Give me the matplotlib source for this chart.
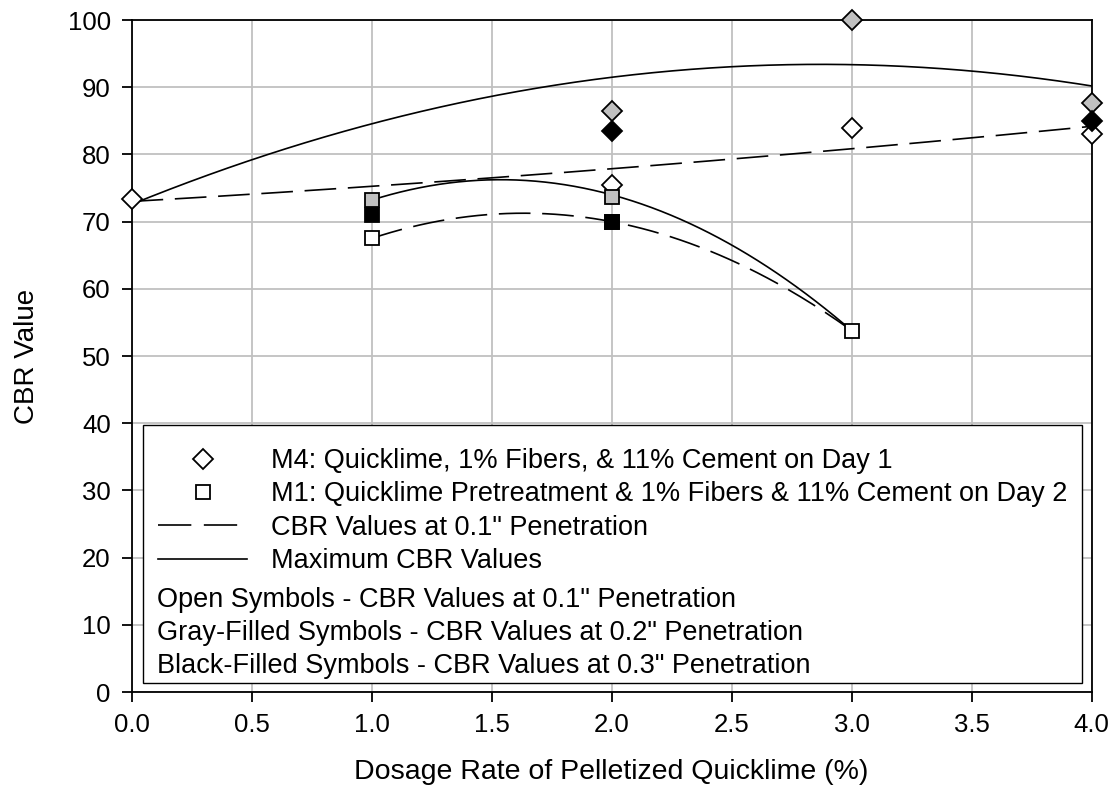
import matplotlib
matplotlib.use("Agg")
import matplotlib.pyplot as plt
from matplotlib.lines import Line2D
from matplotlib.patches import Rectangle
import numpy as np

plt.rcParams['font.family'] = ['Liberation Sans', 'DejaVu Sans']
plt.rcParams['font.size'] = 18

# M4: quicklime, fibers & cement on day 1
m4_dose = np.array([0, 2, 3, 4])
m4_01 = np.array([73.4, 75.5, 84.0, 83.0])
m4_02 = np.array([np.nan, 86.5, 100.0, 87.7])
m4_03 = np.array([np.nan, 83.5, np.nan, 85.0])
m4_max = np.array([73.4, 86.5, 100.0, 87.7])

# M1: quicklime pretreatment, cement on day 2
m1_dose = np.array([1, 2, 3])
m1_01 = np.array([67.5, 70.0, 53.8])
m1_02 = np.array([73.2, 73.7, np.nan])
m1_03 = np.array([71.0, 70.0, np.nan])
m1_max = np.array([73.2, 74.0, 53.8])

gray = "#c0c0c0"
dash = (0, (19, 7))

fig, ax = plt.subplots(figsize=(11.15, 8.01), dpi=100)
fig.subplots_adjust(left=0.118, right=0.979, top=0.975, bottom=0.136)

# quadratic trendlines, like the spreadsheet does
def trend(x, y, ls):
    c = np.polyfit(x, y, 2)
    xx = np.linspace(x.min(), x.max(), 200)
    ax.plot(xx, np.polyval(c, xx), color="black", lw=1.2, linestyle=ls, zorder=3)

trend(m4_dose, m4_01, dash)
trend(m4_dose, m4_max, "-")
trend(m1_dose, m1_01, dash)
trend(m1_dose, m1_max, "-")

mk = dict(linestyle="none", markeredgecolor="black", markeredgewidth=1.3, zorder=4, clip_on=False)
ax.plot(m4_dose, m4_01, marker="D", ms=10, markerfacecolor="white", **mk)
ax.plot(m4_dose, m4_02, marker="D", ms=10, markerfacecolor=gray, **mk)
ax.plot(m4_dose, m4_03, marker="D", ms=10, markerfacecolor="black", **mk)
ax.plot(m1_dose, m1_01, marker="s", ms=10.5, markerfacecolor="white", **mk)
ax.plot(m1_dose, m1_02, marker="s", ms=10.5, markerfacecolor=gray, **mk)
ax.plot(m1_dose, m1_03, marker="s", ms=10.5, markerfacecolor="black", **mk)

ax.set_xlim(0, 4)
ax.set_ylim(0, 100)
ax.set_xticks(np.arange(0, 4.01, 0.5))
ax.set_xticklabels([f"{v:.1f}" for v in np.arange(0, 4.01, 0.5)])
ax.set_yticks(np.arange(0, 101, 10))
ax.grid(True, color=gray, lw=1.3)
ax.set_axisbelow(True)
for s in ax.spines.values():
    s.set_linewidth(1.3)
ax.tick_params(direction="out", length=7, width=1.3, pad=8, labelsize=18.5)
ax.set_xlabel("Dosage Rate of Pelletized Quicklime (%)", fontsize=20.5, labelpad=16)
ax.set_ylabel("CBR Value", fontsize=20, labelpad=20)

# legend box
ax.add_patch(Rectangle((0.0115, 0.013), 0.978, 0.384, transform=ax.transAxes,
                       facecolor="white", edgecolor="black", lw=1.0, zorder=5))
handles = [
    Line2D([], [], linestyle="none", marker="D", ms=10, markerfacecolor="white", markeredgecolor="black", markeredgewidth=1.3),
    Line2D([], [], linestyle="none", marker="s", ms=10.5, markerfacecolor="white", markeredgecolor="black", markeredgewidth=1.3),
    Line2D([], [], color="black", lw=1.2, linestyle=(0, (20, 7.5))),
    Line2D([], [], color="black", lw=1.2),
]
labels = ["M4: Quicklime, 1% Fibers, & 11% Cement on Day 1",
          "M1: Quicklime Pretreatment & 1% Fibers & 11% Cement on Day 2",
          "CBR Values at 0.1\" Penetration",
          "Maximum CBR Values"]
leg = ax.legend(handles, labels, loc="upper left", bbox_to_anchor=(0.028, 0.363),
                frameon=False, borderaxespad=0, borderpad=0, handlelength=3.28,
                handletextpad=0.89, labelspacing=0.27, fontsize=19.5)
leg.set_zorder(6)

notes = ["Open Symbols - CBR Values at 0.1\" Penetration",
         "Gray-Filled Symbols - CBR Values at 0.2\" Penetration",
         "Black-Filled Symbols - CBR Values at 0.3\" Penetration"]
for i, t in enumerate(notes):
    ax.text(0.026, 0.137 - i * 0.049, t, transform=ax.transAxes, va="center", ha="left",
            fontsize=19.5, zorder=6)

fig.savefig("out.png", dpi=100)
